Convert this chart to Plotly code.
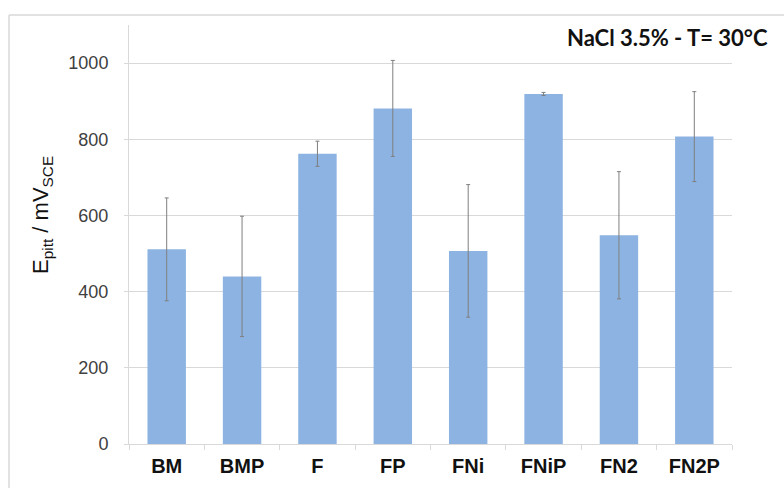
import plotly.graph_objects as go

# Pitting potential per sample condition (mV vs SCE)
samples = ["BM", "BMP", "F", "FP", "FNi", "FNiP", "FN2", "FN2P"]
e_pitt = [511, 440, 762, 881, 507, 919, 548, 807]
e_pitt_err = [135, 158, 33, 126, 174, 4, 167, 118]

y_ticks = [0, 200, 400, 600, 800, 1000]

W, H = 784, 488
M_L, M_R, M_T, M_B = 129, 52, 25, 44
GRID = "#d9d9d9"
BAR = "#8db3e2"

fig = go.Figure(
    go.Bar(
        x=samples,
        y=e_pitt,
        marker=dict(color=BAR, line=dict(width=0)),
        error_y=dict(type="data", array=e_pitt_err, visible=True,
                     color="#7f7f7f", thickness=1, width=2),
    )
)

# convert absolute pixel positions to paper coordinates
plot_w = W - M_L - M_R
plot_h = H - M_T - M_B


def px_x(p):
    return (p - M_L) / plot_w


def px_y(p):
    return (H - M_B - p) / plot_h


fig.update_layout(
    width=W,
    height=H,
    margin=dict(l=M_L, r=M_R, t=M_T, b=M_B),
    plot_bgcolor="white",
    paper_bgcolor="white",
    bargap=0.49,
    showlegend=False,
    font=dict(family="Liberation Sans, Arial, sans-serif", color="#404040"),
    xaxis=dict(
        showgrid=False,
        showline=True,
        linecolor=GRID,
        linewidth=1,
        ticks="outside",
        tickson="boundaries",
        ticklen=5,
        tickcolor=GRID,
        ticklabelstandoff=4,
        tickfont=dict(size=20, color="#111111",
                      family="Liberation Sans, Arial, sans-serif", weight="bold"),
    ),
    yaxis=dict(
        range=[0, 1100],
        tickvals=y_ticks,
        showgrid=True,
        gridcolor=GRID,
        gridwidth=1,
        showline=True,
        linecolor=GRID,
        linewidth=1,
        ticks="outside",
        ticklen=4,
        tickcolor=GRID,
        ticklabelstandoff=12,
        zeroline=False,
        tickfont=dict(size=18, color="#404040"),
    ),
    annotations=[
        dict(
            text="E<sub>pitt</sub> / mV<sub>SCE</sub>",
            textangle=-90,
            xref="paper", yref="paper",
            x=px_x(42), y=px_y(215),
            xanchor="center", yanchor="middle",
            showarrow=False,
            font=dict(size=22, color="#111111"),
        ),
        dict(
            text="<b>NaCl 3.5% - T= 30°C</b>",
            xref="paper", yref="paper",
            x=px_x(770), y=px_y(38),
            xanchor="right", yanchor="middle",
            showarrow=False,
            font=dict(size=22, color="#111111", family="Lato, sans-serif"),
        ),
    ],
    shapes=[
        # outer frame of the chart box
        dict(type="line", xref="paper", yref="paper",
             x0=px_x(9), x1=px_x(W + 5), y0=px_y(15), y1=px_y(15),
             line=dict(color=GRID, width=1.5)),
        dict(type="line", xref="paper", yref="paper",
             x0=px_x(9), x1=px_x(9), y0=px_y(15), y1=px_y(H + 5),
             line=dict(color=GRID, width=1.5)),
    ],
)

fig.write_html("out.html")
